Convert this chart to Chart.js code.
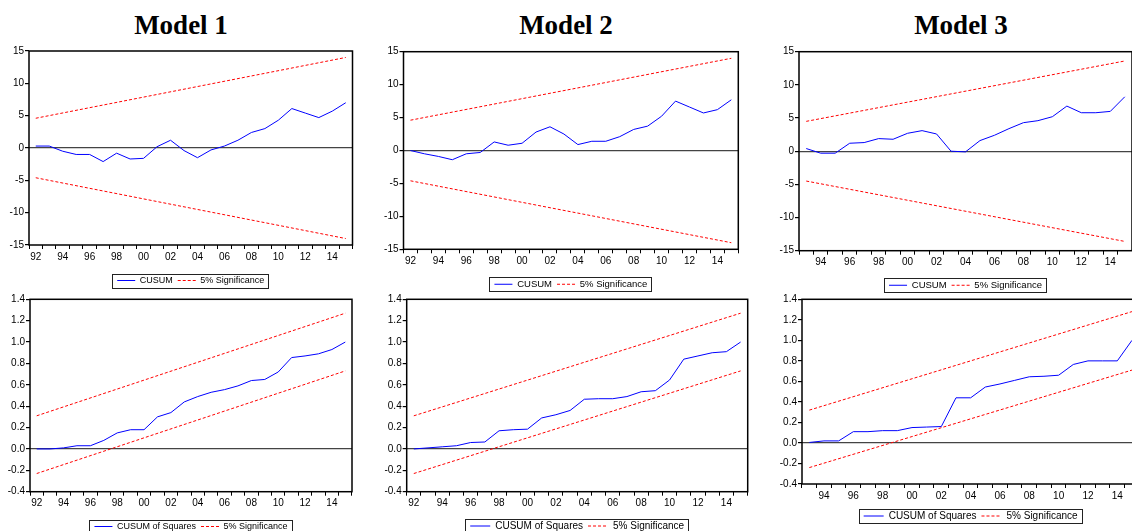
<!DOCTYPE html>
<html>
<head>
<meta charset="utf-8">
<script src="https://cdn.jsdelivr.net/npm/chart.js@4.4.1/dist/chart.umd.min.js"></script>
<style>
  body { margin: 0; width: 1132px; height: 531px; overflow: hidden; background: #fff; position: relative; }
  canvas { position: absolute; }
  .title { position: absolute; top: 12px; width: 200px; text-align: center; font: bold 27px/27px 'Liberation Serif', 'Times New Roman', serif; color: #000; }
</style>
</head>
<body>
<div class="title" style="left:81px">Model 1</div>
<div class="title" style="left:466px">Model 2</div>
<div class="title" style="left:861px">Model 3</div>
<canvas id="c1"></canvas>
<canvas id="c2"></canvas>
<canvas id="c3"></canvas>
<canvas id="c4"></canvas>
<canvas id="c5"></canvas>
<canvas id="c6"></canvas>
<script>
// years on the x axis (two-digit labels, only even ones are printed)
const years92 = ['92','93','94','95','96','97','98','99','00','01','02','03','04','05','06','07','08','09','10','11','12','13','14','15'];
const years93 = ['93','94','95','96','97','98','99','00','01','02','03','04','05','06','07','08','09','10','11','12','13','14','15'];

// CUSUM
const cusum1 = [0.3, 0.3, -0.5, -1.0, -1.0, -2.1, -0.8, -1.7, -1.6, 0.2, 1.2, -0.4, -1.5, -0.3, 0.3, 1.2, 2.4, 3.0, 4.3, 6.1, 5.4, 4.7, 5.7, 7.0];
const cusum2 = [0.0, -0.5, -0.9, -1.4, -0.5, -0.3, 1.3, 0.8, 1.1, 2.8, 3.6, 2.5, 0.9, 1.4, 1.4, 2.1, 3.2, 3.7, 5.2, 7.5, 6.6, 5.7, 6.2, 7.7];
const cusum3 = [0.4, -0.3, -0.3, 1.2, 1.3, 1.9, 1.8, 2.7, 3.1, 2.6, 0.0, -0.1, 1.6, 2.4, 3.4, 4.3, 4.6, 5.2, 6.8, 5.8, 5.8, 6.0, 8.2];

// CUSUM of squares
const cusumSq1 = [0.0, 0.0, 0.01, 0.03, 0.03, 0.08, 0.15, 0.18, 0.18, 0.30, 0.34, 0.44, 0.49, 0.53, 0.555, 0.59, 0.64, 0.65, 0.72, 0.855, 0.87, 0.89, 0.93, 1.0];
const cusumSq2 = [0.0, 0.01, 0.02, 0.03, 0.06, 0.065, 0.17, 0.18, 0.185, 0.29, 0.32, 0.36, 0.465, 0.47, 0.47, 0.49, 0.535, 0.545, 0.645, 0.84, 0.87, 0.90, 0.91, 1.0];
const cusumSq3 = [0.005, 0.02, 0.02, 0.11, 0.11, 0.12, 0.12, 0.15, 0.155, 0.16, 0.44, 0.44, 0.545, 0.575, 0.61, 0.645, 0.65, 0.66, 0.765, 0.80, 0.80, 0.80, 1.0];

// 5% significance bands: [first year, last year]
const upper1 = [4.6, 14.0],  lower1 = [-4.6, -14.0];
const upper2 = [4.6, 14.0],  lower2 = [-4.6, -14.0];
const upper3 = [4.5, 13.6],  lower3 = [-4.5, -13.6];
const upperSq1 = [0.31, 1.27], lowerSq1 = [-0.23, 0.73];
const upperSq2 = [0.31, 1.27], lowerSq2 = [-0.23, 0.73];
const upperSq3 = [0.32, 1.28], lowerSq3 = [-0.24, 0.71];

Chart.defaults.font.family = "'Liberation Sans', Arial, sans-serif";
Chart.defaults.font.size = 10;
Chart.defaults.color = '#000';

const framePlugin = {
  id: 'frame',
  afterDatasetsDraw(chart) {
    const {ctx, chartArea: a} = chart;
    ctx.save();
    ctx.strokeStyle = '#000';
    ctx.lineWidth = 1.5;
    ctx.strokeRect(a.left, a.top, a.right - a.left, a.bottom - a.top);
    ctx.restore();
  },
  afterDraw(chart) {
    const boxes = chart.legend.legendHitBoxes;
    if (!boxes || !boxes.length) return;
    const first = boxes[0], last = boxes[boxes.length - 1];
    const cy = first.top + first.height / 2;
    const x0 = Math.round(first.left - 5) + 0.5;
    const x1 = Math.round(last.left + last.width + 4) + 0.5;
    const y0 = Math.round(cy - 7) + 0.5;
    const ctx = chart.ctx;
    ctx.save();
    ctx.strokeStyle = '#222';
    ctx.lineWidth = 1;
    ctx.strokeRect(x0, y0, x1 - x0, 14);
    ctx.restore();
  }
};

function legendItems(chart) {
  return Chart.defaults.plugins.legend.labels.generateLabels(chart).map(item => {
    const ds = chart.data.datasets[item.datasetIndex];
    item.strokeStyle = ds.borderColor;
    item.lineDash = ds.borderDash || [];
    item.lineWidth = 1;
    return item;
  });
}

function panel(id, geo, labels, values, upper, lower, name, yMin, yMax, yStep, dec) {
  const canvas = document.getElementById(id);
  const fs = geo.legendFont;
  const legendH = fs + 5 + 10;
  const H = Math.round(geo.legendY - geo.top + fs / 2 + 10);
  canvas.width = geo.width;
  canvas.height = H;
  canvas.style.left = geo.left + 'px';
  canvas.style.top = geo.top + 'px';
  const yw = geo.plotL - geo.left;
  const xh = H - legendH - (geo.plotB - geo.top);
  const last = labels[labels.length - 1];

  new Chart(canvas, {
    type: 'line',
    data: {
      labels: labels,
      datasets: [{
        label: name,
        data: values,
        borderColor: '#0000ff',
        backgroundColor: '#0000ff',
        borderWidth: 1,
        pointRadius: 0,
        tension: 0
      }, {
        label: '5% Significance',
        data: [{x: labels[0], y: upper[0]}, {x: last, y: upper[1]}],
        borderColor: '#ff0000',
        backgroundColor: '#ff0000',
        borderWidth: 1,
        borderDash: [3, 2],
        pointRadius: 0
      }, {
        label: 'lower',
        data: [{x: labels[0], y: lower[0]}, {x: last, y: lower[1]}],
        borderColor: '#ff0000',
        borderWidth: 1,
        borderDash: [3, 2],
        pointRadius: 0
      }]
    },
    options: {
      responsive: false,
      animation: false,
      layout: {
        padding: { top: geo.plotT - geo.top, right: geo.left + geo.width - geo.plotR, left: 0, bottom: 0 }
      },
      plugins: {
        tooltip: { enabled: false },
        legend: {
          position: 'bottom',
          fullSize: false,
          labels: {
            generateLabels: legendItems,
            filter: item => item.datasetIndex < 2,
            usePointStyle: true,
            pointStyle: 'line',
            pointStyleWidth: fs >= 10 ? 20 : 18,
            padding: 5,
            font: { size: fs }
          }
        }
      },
      scales: {
        x: {
          offset: true,
          border: { display: false },
          grid: { offset: true, drawOnChartArea: false, tickLength: 4, tickColor: '#000' },
          ticks: {
            autoSkip: false,
            maxRotation: 0,
            padding: 2,
            callback: function(v) {
              const l = this.getLabelForValue(v);
              return Number(l) % 2 === 0 ? l : '';
            }
          },
          afterFit: s => { s.height = xh; }
        },
        y: {
          min: yMin,
          max: yMax,
          border: { display: false },
          grid: {
            tickLength: 4,
            tickColor: '#000',
            color: c => (c.tick && Math.abs(c.tick.value) < 1e-9) ? '#444' : 'rgba(0,0,0,0)',
            lineWidth: 1.2
          },
          ticks: {
            stepSize: yStep,
            padding: 1,
            callback: v => {
              const n = Math.abs(v) < 1e-9 ? 0 : v;
              return dec ? n.toFixed(dec) : String(Math.round(n));
            }
          },
          afterFit: s => { s.width = yw; }
        }
      }
    },
    plugins: [framePlugin]
  });
}

panel('c1', {left: 0, top: 0, width: 362, plotL: 29, plotR: 352.5, plotT: 51, plotB: 245, legendY: 280, legendFont: 9},
  years92, cusum1, upper1, lower1, 'CUSUM', -15, 15, 5, 0);
panel('c2', {left: 372, top: 0, width: 380, plotL: 403.5, plotR: 738.3, plotT: 51.7, plotB: 249.3, legendY: 284, legendFont: 9.5},
  years92, cusum2, upper2, lower2, 'CUSUM', -15, 15, 5, 0);
panel('c3', {left: 760, top: 0, width: 380, plotL: 799, plotR: 1132, plotT: 51.7, plotB: 250.7, legendY: 285, legendFont: 9.5},
  years93, cusum3, upper3, lower3, 'CUSUM', -15, 15, 5, 0);
panel('c4', {left: 0, top: 290, width: 362, plotL: 30, plotR: 352, plotT: 299.3, plotB: 491.7, legendY: 526, legendFont: 9},
  years92, cusumSq1, upperSq1, lowerSq1, 'CUSUM of Squares', -0.4, 1.4, 0.2, 1);
panel('c5', {left: 372, top: 290, width: 380, plotL: 406.7, plotR: 747.7, plotT: 299.3, plotB: 491.7, legendY: 526, legendFont: 10},
  years92, cusumSq2, upperSq2, lowerSq2, 'CUSUM of Squares', -0.4, 1.4, 0.2, 1);
panel('c6', {left: 760, top: 290, width: 390, plotL: 802, plotR: 1139.3, plotT: 299.3, plotB: 484, legendY: 516, legendFont: 10},
  years93, cusumSq3, upperSq3, lowerSq3, 'CUSUM of Squares', -0.4, 1.4, 0.2, 1);
</script>
</body>
</html>
